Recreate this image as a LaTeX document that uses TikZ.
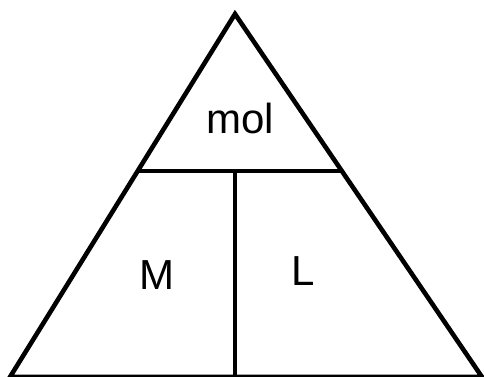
\documentclass[tikz,border=0pt]{standalone}
\usepackage{fontspec}
\setmainfont{Liberation Sans}
\begin{document}
\begin{tikzpicture}[x=1pt,y=-1pt,
  edge/.style={line width=4.6pt,line join=miter},
  label/.style={anchor=base,inner sep=0pt,font=\fontsize{42}{50}\selectfont}]
\useasboundingbox (0,0) rectangle (484,377);
\fill[white] (0,0) rectangle (484,377);
% outer triangle
\coordinate (apex) at (235,14);
\coordinate (bl) at (10,377);
\coordinate (br) at (482,377);
\draw[edge] (apex) -- (bl) -- (br) -- cycle;
% dividers
\coordinate (hl) at (137,171);
\coordinate (hr) at (342,171);
\coordinate (vt) at (235,171);
\coordinate (vb) at (235,377);
\draw[edge] (hl) -- (hr);
\draw[edge] (vt) -- (vb);
% labels
\node[label] (mol) at (240,133) {mol};
\node[label] (m) at (157,289) {M};
\node[label] (l) at (303,285) {L};
\end{tikzpicture}
\end{document}
